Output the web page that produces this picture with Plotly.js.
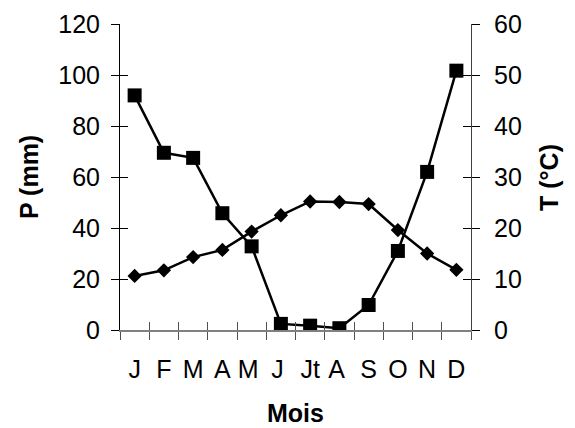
<!DOCTYPE html>
<html>
<head>
<meta charset="utf-8">
<script src="https://cdn.plot.ly/plotly-3.0.1.min.js"></script>
<style>html,body{margin:0;padding:0;background:#fff}#chart{width:575px;height:428px}</style>
</head>
<body>
<div id="chart"></div>
<script>
var months = ["J","F","M","A","M ","J ","Jt","A ","S","O","N","D"];
var precipitation = [92, 69.5, 67.5, 45.8, 32.8, 2.4, 1.7, 0.7, 9.8, 31, 62, 101.7];
var temperature = [10.6, 11.7, 14.3, 15.7, 19.3, 22.5, 25.2, 25.1, 24.7, 19.6, 15.0, 11.8];
var pTicks = [0, 20, 40, 60, 80, 100, 120];
var tTicks = [0, 10, 20, 30, 40, 50, 60];
var nulls = months.map(function(){return null;});

var font = {family: "Liberation Sans, Arial, sans-serif", size: 25, color: "#000"};
var titleFont = {family: "Liberation Sans, Arial, sans-serif", size: 25, color: "#000", weight: "bold"};

var traces = [
  {x: months, y: precipitation, xaxis: "x", yaxis: "y", mode: "lines+markers",
   line: {color: "#000", width: 2.5}, marker: {symbol: "square", size: 14, color: "#000"},
   name: "P", hoverinfo: "x+y", showlegend: false},
  {x: months, y: temperature, xaxis: "x", yaxis: "y2", mode: "lines+markers",
   line: {color: "#000", width: 2.5}, marker: {symbol: "diamond", size: 11, color: "#000"},
   name: "T", hoverinfo: "x+y", showlegend: false},
  {x: months, y: nulls, xaxis: "x2", yaxis: "y3", mode: "markers", hoverinfo: "skip", showlegend: false},
  {x: months, y: nulls, xaxis: "x2", yaxis: "y4", mode: "markers", hoverinfo: "skip", showlegend: false}
];

var layout = {
  width: 575, height: 428,
  margin: {l: 120, r: 104, t: 24, b: 98},
  paper_bgcolor: "#fff", plot_bgcolor: "#fff",
  font: font,
  showlegend: false,
  xaxis: {type: "category", categoryarray: months, range: [-0.5, 11.5],
    tickmode: "linear", tick0: 0, dtick: 1,
    showline: true, linecolor: "#808080", linewidth: 1.5, showgrid: false, zeroline: false,
    ticks: "outside", ticklen: 8, tickcolor: "#505050", tickwidth: 1, tickson: "boundaries",
    tickangle: 0, tickfont: font, ticklabelstandoff: 16, anchor: "y", fixedrange: true},
  xaxis2: {type: "category", categoryarray: months, range: [-0.5, 11.5], overlaying: "x", anchor: "y3",
    tickmode: "linear", tick0: 0, dtick: 1,
    showline: false, showgrid: false, zeroline: false, showticklabels: false,
    ticks: "inside", ticklen: 8, tickcolor: "#505050", tickwidth: 1, tickson: "boundaries", fixedrange: true},
  yaxis: {range: [0, 120], tickvals: pTicks, ticktext: pTicks.map(String),
    showline: true, linecolor: "#000", linewidth: 1, showgrid: false, zeroline: false,
    ticks: "outside", ticklen: 8, tickcolor: "#000", tickwidth: 1, tickfont: font,
    ticklabelstandoff: 6, fixedrange: true},
  yaxis2: {range: [0, 60], tickvals: tTicks, ticktext: tTicks.map(String), overlaying: "y", side: "right", anchor: "x",
    showline: true, linecolor: "#404040", linewidth: 1, showgrid: false, zeroline: false,
    ticks: "outside", ticklen: 8, tickcolor: "#000", tickwidth: 1, tickfont: font,
    ticklabelstandoff: 9, fixedrange: true},
  yaxis3: {range: [0, 120], tickvals: pTicks, overlaying: "y", side: "left", anchor: "x2",
    showline: false, showgrid: false, zeroline: false, showticklabels: false,
    ticks: "inside", ticklen: 8, tickcolor: "#000", tickwidth: 1, fixedrange: true},
  yaxis4: {range: [0, 60], tickvals: tTicks, overlaying: "y", side: "right", anchor: "x2",
    showline: false, showgrid: false, zeroline: false, showticklabels: false,
    ticks: "inside", ticklen: 8, tickcolor: "#000", tickwidth: 1, fixedrange: true},
  annotations: [
    {text: "<b>P (mm)</b>", xref: "paper", yref: "paper", x: -0.259, y: 0.5, xanchor: "center", yanchor: "middle",
     textangle: -90, showarrow: false, font: titleFont},
    {text: "<b>T (°C)</b>", xref: "paper", yref: "paper", x: 1.222, y: 0.5, xanchor: "center", yanchor: "middle",
     textangle: -90, showarrow: false, font: titleFont},
    {text: "<b>Mois</b>", xref: "paper", yref: "paper", x: 0.5, y: -0.27, xanchor: "center", yanchor: "middle",
     showarrow: false, font: titleFont}
  ]
};

Plotly.newPlot("chart", traces, layout, {displayModeBar: false, staticPlot: true});
</script>
</body>
</html>
